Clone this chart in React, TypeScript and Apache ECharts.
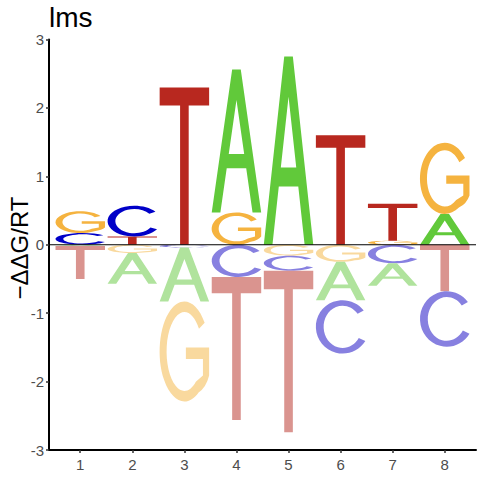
import React, { useEffect, useRef } from "react";
import * as echarts from "echarts";

// ---- data ----
const positions = [1, 2, 3, 4, 5, 6, 7, 8];
const letters = ["A", "C", "G", "T"];
const valuesA = [-0.02, -0.45, -0.79, 2.09, 2.75, -0.56, -0.33, 0.45];
const valuesC = [0.17, 0.45, -0.04, -0.47, -0.22, -0.78, -0.27, -0.81];
const valuesG = [0.32, -0.12, -1.46, 0.47, -0.16, -0.25, 0.06, 1.04];
const valuesT = [-0.48, 0.12, 2.3, -2.09, -2.36, 1.6, 0.54, -0.68];
const yTicks = [-3, -2, -1, 0, 1, 2, 3];
const titleText = "lms";
const yName = "\u2212\u0394\u0394G/RT";

// ---- styles ----
const posColors = ["#61C93A", "#0000C8", "#F5B33F", "#B8281F"];
const negColors = ["#B0E39D", "#8780E0", "#F9D99E", "#DA948F"];
const FONT = "Liberation Sans, Arial, Helvetica, sans-serif";

// ---- glyph outlines (box 0..100) ----
function ept(cx: number, cy: number, rx: number, ry: number, a: number) {
  const r = (a * Math.PI) / 180;
  return `${(cx + rx * Math.cos(r)).toFixed(2)},${(cy - ry * Math.sin(r)).toFixed(2)}`;
}
function arc(cx: number, cy: number, rx: number, ry: number, a0: number, a1: number) {
  const n = Math.max(1, Math.ceil(Math.abs(a1 - a0) / 90));
  const step = (a1 - a0) / n;
  let s = "";
  for (let i = 0; i < n; i++) {
    const a = ((a0 + step * i) * Math.PI) / 180;
    const b = ((a0 + step * (i + 1)) * Math.PI) / 180;
    const k = (4 / 3) * Math.tan((b - a) / 4);
    const p0 = [Math.cos(a), Math.sin(a)];
    const p3 = [Math.cos(b), Math.sin(b)];
    const p1 = [p0[0] - k * Math.sin(a), p0[1] + k * Math.cos(a)];
    const p2 = [p3[0] + k * Math.sin(b), p3[1] - k * Math.cos(b)];
    const m = (p: number[]) => `${(cx + rx * p[0]).toFixed(2)},${(cy - ry * p[1]).toFixed(2)}`;
    s += ` C${m(p1)} ${m(p2)} ${m(p3)}`;
  }
  return s;
}
const GLYPH_A =
  "M0,100 L41.3,0 L58.7,0 L100,100 L82.5,100 L69.7,69 L30.3,69 L17.5,100 Z M34.4,59 L65.6,59 L50,21.3 Z";
const GLYPH_C =
  `M${ept(50, 50, 50, 50, 38)}${arc(50, 50, 50, 50, 38, 328)} L${ept(50, 50, 35.5, 39.5, 328)}${arc(50, 50, 35.5, 39.5, 328, 38)} Z`;
const GLYPH_G =
  `M${ept(50, 50, 50, 50, 35)}${arc(50, 50, 50, 50, 35, 305)} Q94,86 100,74 L100,46 L53,46 L53,57.5 L87.5,57.5 L87.5,74 L${ept(50, 50, 36, 39.5, 310)}${arc(50, 50, 36, 39.5, 310, 35)} Z`;
const GLYPH_T = "M0,0 L100,0 L100,11.5 L58.7,11.5 L58.7,100 L41.3,100 L41.3,11.5 L0,11.5 Z";
const GLYPHS = [GLYPH_A, GLYPH_C, GLYPH_G, GLYPH_T];

// ---- stacked letter boxes built from the arrays ----
const letterValues = [valuesA, valuesC, valuesG, valuesT];
const stackData: number[][] = [];
positions.forEach((pos, pi) => {
  const entries = letters.map((_, li) => ({ li, v: letterValues[li][pi] }));
  const up = entries.filter((e) => e.v > 0).sort((a, b) => a.v - b.v);
  let base = 0;
  up.forEach((e) => {
    stackData.push([pos, base, base + e.v, e.li, 0]);
    base += e.v;
  });
  const down = entries.filter((e) => e.v < 0).sort((a, b) => b.v - a.v);
  base = 0;
  down.forEach((e) => {
    stackData.push([pos, base, base + e.v, e.li, 1]);
    base += e.v;
  });
});

const HALF = 0.475;

export default function App() {
  const ref = useRef<HTMLDivElement>(null);
  useEffect(() => {
    const chart = echarts.init(ref.current!, null, { renderer: "svg" });
    const option: any = {
      animation: false,
      backgroundColor: "#ffffff",
      textStyle: { fontFamily: FONT },
      grid: { left: 49, right: 4, top: 39.5, bottom: 30, containLabel: false, outerBoundsMode: "none" },
      xAxis: {
        type: "value",
        min: 0.4,
        max: 8.6,
        axisLine: { show: true, onZero: false, lineStyle: { color: "#000", width: 2 } },
        axisTick: { show: true, customValues: positions, length: 3, lineStyle: { color: "#333", width: 1.5 } },
        axisLabel: { customValues: positions, color: "#4d4d4d", fontSize: 15, margin: 7, fontFamily: FONT },
        splitLine: { show: false },
      },
      yAxis: {
        type: "value",
        min: -3,
        max: 3,
        interval: 1,
        axisLine: { show: true, onZero: false, lineStyle: { color: "#000", width: 2 } },
        axisTick: { show: true, customValues: yTicks, length: 3, lineStyle: { color: "#333", width: 1.5 } },
        axisLabel: { customValues: yTicks, color: "#4d4d4d", fontSize: 15, margin: 5, fontFamily: FONT },
        splitLine: { show: false },
      },
      graphic: [
        {
          type: "text",
          x: 49,
          y: 17,
          style: { text: titleText, fontSize: 28, fontFamily: FONT, fill: "#000", align: "left", verticalAlign: "middle" },
        },
        {
          type: "text",
          x: 19,
          y: 248,
          rotation: Math.PI / 2,
          style: { text: yName, fontSize: 24, fontFamily: FONT, fill: "#000", align: "center", verticalAlign: "middle" },
        },
      ],
      series: [
        {
          type: "custom",
          data: stackData,
          encode: { x: 0, y: [1, 2] },
          clip: false,
          renderItem: (params: any, api: any) => {
            const x = api.value(0);
            const y0 = api.value(1);
            const y1 = api.value(2);
            const li = api.value(3);
            const neg = api.value(4);
            const p0 = api.coord([x - HALF, Math.max(y0, y1)]);
            const p1 = api.coord([x + HALF, Math.min(y0, y1)]);
            const w = p1[0] - p0[0];
            const h = p1[1] - p0[1];
            if (h <= 0.2) return null;
            return {
              type: "path",
              shape: { pathData: GLYPHS[li], x: p0[0], y: p0[1], width: w, height: h, layout: "cover" },
              style: { fill: neg ? negColors[li] : posColors[li] },
            };
          },
        },
        {
          type: "line",
          data: [
            [0.4, 0],
            [8.6, 0],
          ],
          symbol: "none",
          silent: true,
          z: 10,
          lineStyle: { color: "#000", width: 1.2 },
        },
      ],
    };
    chart.setOption(option);
    return () => chart.dispose();
  }, []);
  return (
    <div
      ref={ref}
      style={{ position: "fixed", left: 0, top: 0, width: 480, height: 480, background: "#fff" }}
    />
  );
}
